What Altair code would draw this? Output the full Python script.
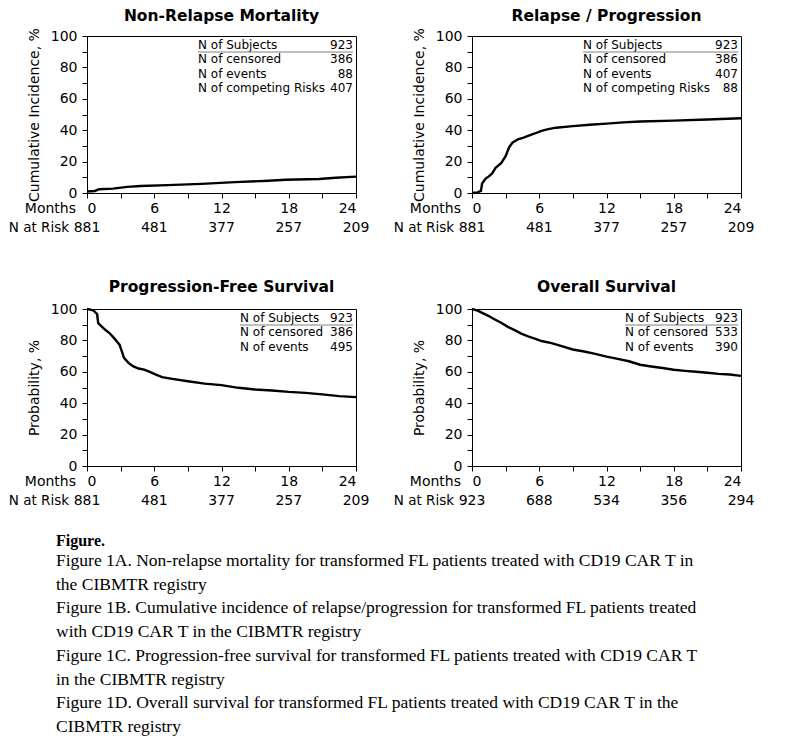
import altair as alt
import pandas as pd

# ---------------- data ----------------
nrm_months = [0, 0.7, 1.1, 2.3, 3.6, 4.8, 7.2, 10.2, 13.2, 16.2, 17.7, 20.7, 22.2, 24]
nrm_values = [1.0, 1.3, 2.4, 2.8, 3.9, 4.5, 5.0, 5.8, 6.9, 7.8, 8.4, 8.9, 9.7, 10.4]

rel_months = [0, 0.5, 0.8, 0.9, 1.2, 1.5, 1.8, 2.1, 2.6, 3.0, 3.3, 3.6, 4.1, 4.6, 5.0,
              5.6, 6.2, 6.8, 7.5, 9, 10.5, 12, 13.5, 15, 18, 21, 24]
rel_values = [0, 0.4, 1.3, 6, 9, 10.6, 12.5, 16, 19, 23.4, 29, 32, 34.2, 35.3, 36.4,
              37.9, 39.6, 40.7, 41.6, 42.6, 43.5, 44.2, 45, 45.5, 46.1, 46.8, 47.6]

pfs_months = [0, 0.3, 0.6, 0.9, 1.0, 1.3, 1.6, 2.0, 2.4, 2.9, 3.1, 3.3, 3.7, 4.1, 4.6,
              5.1, 5.6, 6.1, 6.7, 7.6, 9, 10.5, 12, 13.5, 15, 16.5, 18, 19.5, 21, 22.5, 24]
pfs_values = [100, 99.6, 98.9, 96.8, 91, 89, 86.9, 84.7, 81.6, 77.3, 73.1, 68.9, 65.7, 63.6, 62.1,
              61.4, 59.9, 58.3, 56.6, 55.5, 54, 52.5, 51.5, 49.8, 48.7, 48.1, 47.2, 46.6, 45.6, 44.5, 43.9]

os_months = [0, 0.5, 1.0, 1.5, 2.0, 2.6, 3.2, 3.8, 4.4, 5.0, 5.6, 6.2, 7.1, 8, 9, 10, 11,
             12, 13, 14, 15, 16, 17, 18, 19, 20, 21, 22, 23, 24]
os_values = [100, 98.9, 97.2, 95.5, 93.5, 91.2, 88.6, 86.5, 84.3, 82.6, 81.1, 79.6, 78.3, 76.3,
             74.2, 72.9, 71.4, 69.7, 68.2, 66.7, 64.5, 63.4, 62.4, 61.3, 60.6, 60, 59.4, 58.7, 58.3, 57.4]

risk_months = [0, 6, 12, 18, 24]
risk_nrm = [881, 481, 377, 257, 209]
risk_rel = [881, 481, 377, 257, 209]
risk_pfs = [881, 481, 377, 257, 209]
risk_os = [923, 688, 534, 356, 294]

leg_labels_cr = ["N of Subjects", "N of censored", "N of events", "N of competing Risks"]
leg_labels_km = ["N of Subjects", "N of censored", "N of events"]
leg_vals_nrm = ["923", "386", "88", "407"]
leg_vals_rel = ["923", "386", "407", "88"]
leg_vals_pfs = ["923", "386", "495"]
leg_vals_os = ["923", "533", "390"]

titles = ["Non-Relapse Mortality", "Relapse / Progression", "Progression-Free Survival", "Overall Survival"]
ytitles = ["Cumulative Incidence, %", "Cumulative Incidence, %", "Probability, %", "Probability, %"]

caption_head = "Figure."
caption_lines = [
    "Figure 1A. Non-relapse mortality for transformed FL patients treated with CD19 CAR T in",
    "the CIBMTR registry",
    "Figure 1B. Cumulative incidence of relapse/progression for transformed FL patients treated",
    "with CD19 CAR T in the CIBMTR registry",
    "Figure 1C. Progression-free survival for transformed FL patients treated with CD19 CAR T",
    "in the CIBMTR registry",
    "Figure 1D. Overall survival for transformed FL patients treated with CD19 CAR T in the",
    "CIBMTR registry",
]

x_ticks = list(range(0, 25, 3))
y_ticks = list(range(0, 101, 10))

W, H = 269, 157
FONT = "DejaVu Sans"


def panel(months, vals, title, ytitle, leg_labels, leg_vals, leg_left, risk, title_y, caption=False):
    df = pd.DataFrame({"month": months, "value": vals})
    xenc = alt.X("month:Q", scale=alt.Scale(domain=[0, 24], nice=False, zero=False),
                 axis=alt.Axis(values=x_ticks, title=None, labelPadding=3,
                               labelExpr="datum.value % 6 == 0 ? datum.label : ''"))
    yenc = alt.Y("value:Q", scale=alt.Scale(domain=[0, 100], nice=False),
                 axis=alt.Axis(values=y_ticks, title=ytitle, titlePadding=9, labelPadding=5,
                               labelExpr="datum.value % 20 == 0 ? datum.label : ''"))
    layers = []
    layers.append(alt.Chart(df).mark_line(color="black", strokeWidth=2.4).encode(x=xenc, y=yenc))

    layers.append(alt.Chart(pd.DataFrame({"t": [title]})).mark_text(
        font=FONT, fontSize=15.5, fontWeight="bold", color="black", align="center",
        baseline="alphabetic").encode(x=alt.value(W / 2), y=alt.value(title_y), text="t:N"))

    rdf = pd.DataFrame({"month": risk_months, "n": [str(v) for v in risk]})
    layers.append(alt.Chart(rdf).mark_text(font=FONT, fontSize=14, color="black",
                                           baseline="middle", align="center").encode(
        x=xenc, y=alt.value(H + 35), text="n:N"))

    layers.append(alt.Chart(pd.DataFrame({"t": ["Months"]})).mark_text(
        font=FONT, fontSize=14, color="black", align="right", baseline="middle").encode(
        x=alt.value(-11), y=alt.value(H + 16), text="t:N"))
    layers.append(alt.Chart(pd.DataFrame({"t": ["N at Risk"]})).mark_text(
        font=FONT, fontSize=13.5, color="black", align="right", baseline="middle").encode(
        x=alt.value(-18), y=alt.value(H + 35), text="t:N"))

    # in-plot summary table
    layers.append(alt.Chart(pd.DataFrame({"t": ["\n".join(leg_labels)]})).mark_text(
        font=FONT, fontSize=12, color="black", align="left", baseline="top",
        lineBreak="\n", lineHeight=14.4).encode(x=alt.value(leg_left), y=alt.value(4), text="t:N"))
    layers.append(alt.Chart(pd.DataFrame({"t": ["\n".join(leg_vals)]})).mark_text(
        font=FONT, fontSize=12, color="black", align="right", baseline="top",
        lineBreak="\n", lineHeight=14.4).encode(x=alt.value(W - 3), y=alt.value(4), text="t:N"))
    layers.append(alt.Chart(pd.DataFrame({"a": [0]})).mark_rule(color="#808080", strokeWidth=1).encode(
        x=alt.value(leg_left), x2=alt.value(W - 3), y=alt.value(16)))

    if caption:
        layers.append(alt.Chart(pd.DataFrame({"t": [caption_head]})).mark_text(
            font="Liberation Serif", fontSize=16, fontWeight="bold", color="black",
            align="left", baseline="middle").encode(x=alt.value(-31), y=alt.value(232), text="t:N"))
        layers.append(alt.Chart(pd.DataFrame({"t": ["\n".join(caption_lines)]})).mark_text(
            font="Liberation Serif", fontSize=17.5, color="black", align="left", baseline="top",
            lineBreak="\n", lineHeight=23.7).encode(x=alt.value(-31), y=alt.value(243), text="t:N"))

    return alt.layer(*layers).properties(width=W, height=H)


A = panel(nrm_months, nrm_values, titles[0], ytitles[0], leg_labels_cr, leg_vals_nrm, 111, risk_nrm, -15)
B = panel(rel_months, rel_values, titles[1], ytitles[1], leg_labels_cr, leg_vals_rel, 111, risk_rel, -15)
C = panel(pfs_months, pfs_values, titles[2], ytitles[2], leg_labels_km, leg_vals_pfs, 153, risk_pfs, -17, caption=True)
D = panel(os_months, os_values, titles[3], ytitles[3], leg_labels_km, leg_vals_os, 153, risk_os, -17)

chart = alt.concat(A, B, C, D, columns=2, spacing={"row": 116, "column": 116}, bounds="flush").properties(
    padding={"left": 0, "top": 0, "right": 5, "bottom": 5}
).configure(font=FONT, background="white").configure_view(
    stroke="black", strokeWidth=1
).configure_axis(
    grid=False, domainColor="black", domainWidth=1, tickColor="black", tickSize=5, tickWidth=1,
    labelColor="black", labelFont=FONT, labelFontSize=14, titleFont=FONT, titleFontSize=14,
    titleFontWeight="normal", titleColor="black"
)

chart.save("out.html", embed_options={"renderer": "svg", "actions": False})
